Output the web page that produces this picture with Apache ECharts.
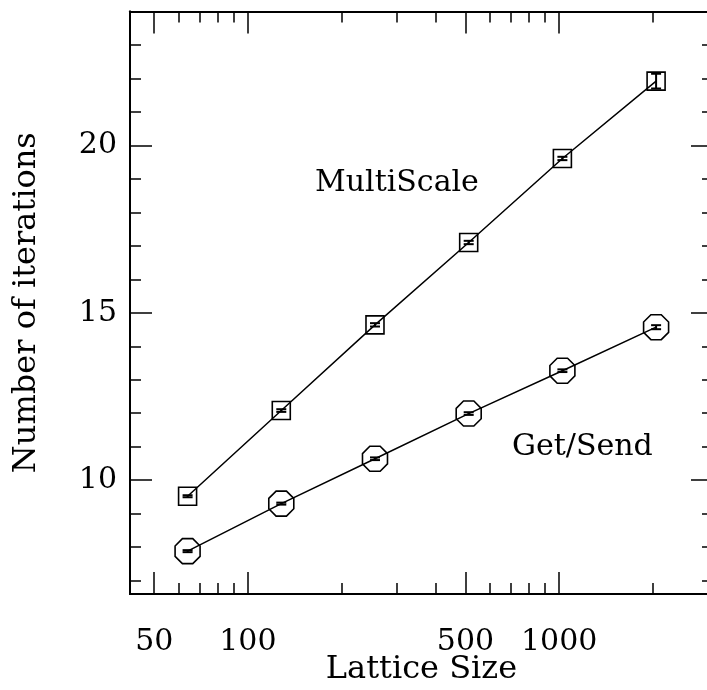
<!DOCTYPE html>
<html>
<head>
<meta charset="utf-8">
<script src="https://cdn.jsdelivr.net/npm/echarts@6/dist/echarts.min.js"></script>
<style>
  html, body { margin: 0; padding: 0; background: #fff; }
  #chart { width: 707px; height: 690px; }
</style>
</head>
<body>
<div id="chart"></div>
<script>
const latticeSizes = [64, 128, 256, 512, 1024, 2048];
const multiScaleIters = [9.52, 12.08, 14.64, 17.10, 19.61, 21.92];
const multiScaleErr = [0.03, 0.04, 0.05, 0.05, 0.05, 0.22];
const getSendIters = [7.88, 9.30, 10.64, 11.99, 13.27, 14.57];
const getSendErr = [0.03, 0.03, 0.04, 0.04, 0.04, 0.06];

const xMajorTicks = [50, 100, 500, 1000];
const xMinorTicks = [60, 70, 80, 90, 200, 300, 400, 600, 700, 800, 900, 2000];
const yMajorTicks = [10, 15, 20];
const yMinorTicks = [7, 8, 9, 11, 12, 13, 14, 16, 17, 18, 19, 21, 22, 23];

const xMin = 41.8, xMax = 3120;
const yMin = 6.6, yMax = 24;

const FONT = '"DejaVu Serif", "Liberation Serif", serif';
const chart = echarts.init(document.getElementById('chart'));

// x is drawn on log10 scale
const lg = v => Math.log10(v);
const octagon = 'path://M-0.414,-1L0.414,-1L1,-0.414L1,0.414L0.414,1L-0.414,1L-1,0.414L-1,-0.414Z';

function xAxisDef(position, ticks, len, withLabel) {
  return {
    type: 'value',
    position: position,
    min: lg(xMin),
    max: lg(xMax),
    axisLine: { show: true, lineStyle: { color: '#000', width: 2 } },
    axisTick: { show: true, inside: true, length: len, customValues: ticks.map(lg),
      lineStyle: { color: '#000', width: 1.5 } },
    axisLabel: withLabel ? {
      show: true, customValues: ticks.map(lg), margin: 33,
      formatter: v => String(Math.round(Math.pow(10, v))),
      color: '#000', fontFamily: FONT, fontSize: 30
    } : { show: false },
    splitLine: { show: false },
    name: withLabel ? 'Lattice Size' : '',
    nameLocation: 'middle',
    nameGap: 60,
    nameMoveOverlap: false,
    nameTextStyle: { color: '#000', fontFamily: FONT, fontSize: 32 }
  };
}

function yAxisDef(position, ticks, len, withLabel) {
  return {
    type: 'value',
    position: position,
    min: yMin,
    max: yMax,
    axisLine: { show: true, lineStyle: { color: '#000', width: 2 } },
    axisTick: { show: true, inside: true, length: len, customValues: ticks,
      lineStyle: { color: '#000', width: 1.5 } },
    axisLabel: withLabel ? {
      show: true, customValues: ticks, margin: 13,
      color: '#000', fontFamily: FONT, fontSize: 30
    } : { show: false },
    splitLine: { show: false },
    name: withLabel ? 'Number of iterations' : '',
    nameLocation: 'middle',
    nameGap: 87,
    nameMoveOverlap: false,
    nameTextStyle: { color: '#000', fontFamily: FONT, fontSize: 32 }
  };
}

function errorSeries(vals, errs) {
  return {
    type: 'custom',
    xAxisIndex: 0,
    yAxisIndex: 0,
    silent: true,
    z: 4,
    data: latticeSizes.map((n, i) => [lg(n), vals[i] - errs[i], vals[i] + errs[i]]),
    encode: { x: 0, y: [1, 2] },
    renderItem: (params, api) => {
      const lo = api.coord([api.value(0), api.value(1)]);
      const hi = api.coord([api.value(0), api.value(2)]);
      const w = 5;
      const style = { stroke: '#000', lineWidth: 2 };
      return {
        type: 'group',
        children: [
          { type: 'line', shape: { x1: lo[0], y1: lo[1], x2: hi[0], y2: hi[1] }, style },
          { type: 'line', shape: { x1: lo[0] - w, y1: lo[1], x2: lo[0] + w, y2: lo[1] }, style },
          { type: 'line', shape: { x1: hi[0] - w, y1: hi[1], x2: hi[0] + w, y2: hi[1] }, style }
        ]
      };
    }
  };
}

function lineSeries(name, vals, symbol, size) {
  return {
    type: 'line',
    name: name,
    xAxisIndex: 0,
    yAxisIndex: 0,
    data: latticeSizes.map((n, i) => [lg(n), vals[i]]),
    symbol: symbol,
    symbolSize: size,
    showAllSymbol: true,
    itemStyle: { color: 'rgba(0,0,0,0)', borderColor: '#000', borderWidth: 1.6 },
    lineStyle: { color: '#000', width: 1.5 },
    emphasis: { disabled: true },
    silent: true,
    z: 3
  };
}

chart.setOption({
  animation: false,
  backgroundColor: '#fff',
  grid: { left: 130, top: 11.5, right: -6, bottom: 96, containLabel: false, outerBoundsMode: 'none' },
  xAxis: [
    xAxisDef('bottom', xMajorTicks, 22, true),
    xAxisDef('bottom', xMinorTicks, 11, false),
    xAxisDef('top', xMajorTicks, 22, false),
    xAxisDef('top', xMinorTicks, 11, false)
  ],
  yAxis: [
    yAxisDef('left', yMajorTicks, 22, true),
    yAxisDef('left', yMinorTicks, 11, false),
    yAxisDef('right', yMajorTicks, 22, false),
    yAxisDef('right', yMinorTicks, 11, false)
  ],
  series: [
    lineSeries('MultiScale', multiScaleIters, 'rect', 18),
    lineSeries('Get/Send', getSendIters, octagon, 25),
    errorSeries(multiScaleIters, multiScaleErr),
    errorSeries(getSendIters, getSendErr)
  ],
  graphic: [
    { type: 'text', left: 315, top: 168,
      style: { text: 'MultiScale', font: '30px ' + FONT, fill: '#000' } },
    { type: 'text', left: 512, top: 432,
      style: { text: 'Get/Send', font: '30px ' + FONT, fill: '#000' } }
  ]
});

window.addEventListener('resize', () => chart.resize());
</script>
</body>
</html>
